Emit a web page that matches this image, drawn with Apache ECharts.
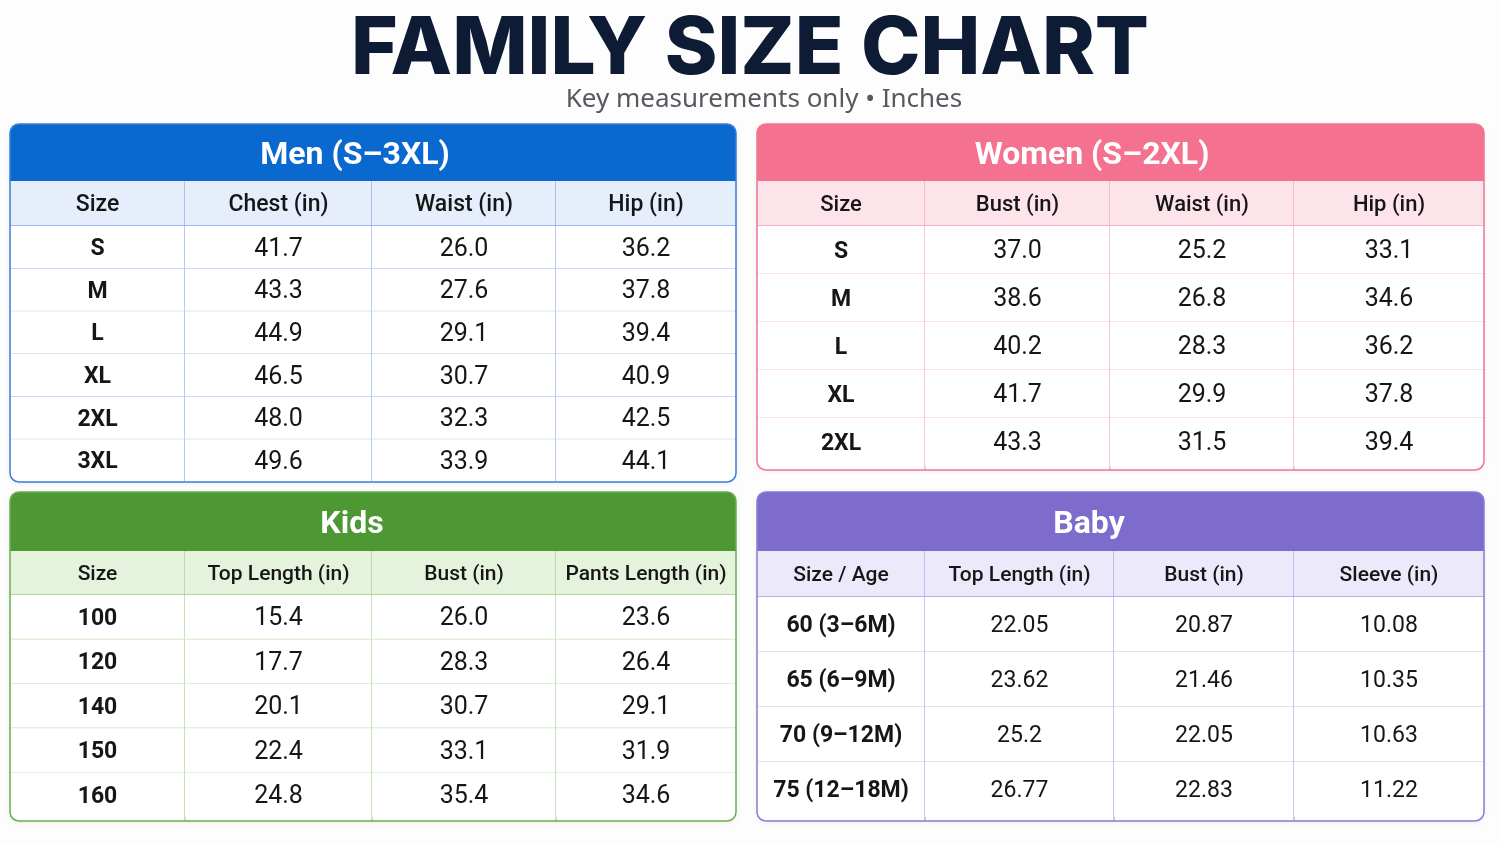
<!DOCTYPE html>
<html>
<head>
<meta charset="utf-8">
<script src="https://cdn.jsdelivr.net/npm/echarts@6/dist/echarts.min.js"></script>
<style>
  html, body { margin: 0; padding: 0; background: #fdfdfd; }
  #chart { width: 1500px; height: 844px; }
</style>
</head>
<body>
<div id="chart"></div>
<script>
// ---- data ----
const menColumns = ['Size', 'Chest (in)', 'Waist (in)', 'Hip (in)'];
const menSizes = ['S', 'M', 'L', 'XL', '2XL', '3XL'];
const menChest = [41.7, 43.3, 44.9, 46.5, 48.0, 49.6];
const menWaist = [26.0, 27.6, 29.1, 30.7, 32.3, 33.9];
const menHip = [36.2, 37.8, 39.4, 40.9, 42.5, 44.1];

const womenColumns = ['Size', 'Bust (in)', 'Waist (in)', 'Hip (in)'];
const womenSizes = ['S', 'M', 'L', 'XL', '2XL'];
const womenBust = [37.0, 38.6, 40.2, 41.7, 43.3];
const womenWaist = [25.2, 26.8, 28.3, 29.9, 31.5];
const womenHip = [33.1, 34.6, 36.2, 37.8, 39.4];

const kidsColumns = ['Size', 'Top Length (in)', 'Bust (in)', 'Pants Length (in)'];
const kidsSizes = ['100', '120', '140', '150', '160'];
const kidsTop = [15.4, 17.7, 20.1, 22.4, 24.8];
const kidsBust = [26.0, 28.3, 30.7, 33.1, 35.4];
const kidsPants = [23.6, 26.4, 29.1, 31.9, 34.6];

const babyColumns = ['Size / Age', 'Top Length (in)', 'Bust (in)', 'Sleeve (in)'];
const babySizes = ['60 (3–6M)', '65 (6–9M)', '70 (9–12M)', '75 (12–18M)'];
const babyTop = [22.05, 23.62, 25.2, 26.77];
const babyBust = [20.87, 21.46, 22.05, 22.83];
const babySleeve = [10.08, 10.35, 10.63, 11.22];

// ---- layout / style ----
const FONT = 'Roboto, "Noto Sans", sans-serif';
const fixed1 = v => v.toFixed(1);
const plain = v => String(v);

// extra: how far the panel frame closes below the last row
const panels = [
  { title: 'Men (S–3XL)', columns: menColumns, sizes: menSizes, values: [menChest, menWaist, menHip], fmt: fixed1,
    left: 10, width: 726, top: 124, headTop: 181, bodyTop: 226, bottom: 482, extra: 0, colW: [175, 187, 184, 180],
    titleX: 355, valSize: 25, headSize: 23,
    band: '#0a69cf', head: '#e6eefb', colLine: '#7fa8e4', rowLine: '#b3cbf0', edge: '#3a7fd8' },
  { title: 'Women (S–2XL)', columns: womenColumns, sizes: womenSizes, values: [womenBust, womenWaist, womenHip], fmt: fixed1,
    left: 757, width: 727, top: 124, headTop: 181, bodyTop: 226, bottom: 466, extra: 4, colW: [168, 185, 184, 190],
    titleX: 1092, valSize: 25, headSize: 22,
    band: '#f4728f', head: '#fde4ea', colLine: '#f4a3b5', rowLine: '#f8c2ce', edge: '#f07593' },
  { title: 'Kids', columns: kidsColumns, sizes: kidsSizes, values: [kidsTop, kidsBust, kidsPants], fmt: fixed1,
    left: 10, width: 726, top: 492, headTop: 551, bodyTop: 595, bottom: 817, extra: 4, colW: [175, 187, 184, 180],
    titleX: 352, valSize: 25, headSize: 21,
    band: '#4e9833', head: '#e5f3dd', colLine: '#9fcf8c', rowLine: '#c3e2b5', edge: '#6cad55' },
  { title: 'Baby', columns: babyColumns, sizes: babySizes, values: [babyTop, babyBust, babySleeve], fmt: plain,
    left: 757, width: 727, top: 492, headTop: 551, bodyTop: 597, bottom: 817, extra: 4, colW: [168, 189, 180, 190],
    titleX: 1089, valSize: 23, headSize: 21,
    band: '#7e6ccc', head: '#ece9fa', colLine: '#a99de3', rowLine: '#c9c1ef', edge: '#8b7bd3' }
];

const grid = [], xAxis = [], yAxis = [], series = [], graphic = [];

graphic.push({
  type: 'text', x: 750, y: 50, z: 50,
  style: { text: 'FAMILY SIZE CHART', align: 'center', verticalAlign: 'middle',
    font: '800 80px Inter, "Noto Sans", sans-serif', fill: '#0d1b34' }
});
graphic.push({
  type: 'text', x: 764, y: 100, z: 50,
  style: { text: 'Key measurements only • Inches', align: 'center', verticalAlign: 'middle',
    font: '26px "Noto Sans", sans-serif', fill: '#555a60' }
});

function cellRenderer(p, cells, isHead, nRows) {
  const edges = [0];
  p.colW.forEach(w => edges.push(edges[edges.length - 1] + w));
  return function (params, api) {
    const cell = cells[params.dataIndex];
    const col = cell.col, row = cell.row;
    const x0 = api.coord([edges[col], row])[0];
    const x1 = api.coord([edges[col + 1], row])[0];
    const yc = api.coord([0, row])[1];
    const h = api.size([0, 1])[1];
    const y0 = yc - h / 2;
    const lastRow = !isHead && row === nRows - 1;
    const children = [{
      type: 'rect', shape: { x: x0, y: y0, width: x1 - x0, height: h },
      style: { fill: isHead ? p.head : '#ffffff' }
    }];
    if (col < p.colW.length - 1) {
      children.push({ type: 'line', shape: { x1: x1, y1: y0, x2: x1, y2: y0 + h + (lastRow ? p.extra : 0) },
        style: { stroke: p.colLine, lineWidth: 1.2 } });
    }
    if (isHead || !lastRow) {
      children.push({ type: 'line', shape: { x1: x0, y1: y0 + h, x2: x1, y2: y0 + h },
        style: { stroke: isHead ? p.colLine : p.rowLine, lineWidth: isHead ? 1.5 : 1.2 } });
    }
    let font;
    if (isHead) font = '500 ' + p.headSize + 'px ' + FONT;
    else if (col === 0) font = 'bold 23px ' + FONT;
    else font = p.valSize + 'px ' + FONT;
    children.push({
      type: 'text',
      style: { text: cell.text, x: (x0 + x1) / 2, y: yc + 2, align: 'center', verticalAlign: 'middle',
        font: font, fill: '#161616' }
    });
    return { type: 'group', children: children };
  };
}

panels.forEach((p, i) => {
  const total = p.colW.reduce((a, b) => a + b, 0);
  const hi = i * 2, bi = i * 2 + 1;
  const frameBottom = p.bottom + p.extra;

  graphic.push({
    type: 'rect', z: 0,
    shape: { x: p.left, y: p.top, width: p.width, height: frameBottom - p.top, r: 9 },
    style: { fill: '#ffffff', shadowBlur: 6, shadowColor: 'rgba(0,0,0,0.08)', shadowOffsetY: 1 }
  });
  graphic.push({
    type: 'rect', z: 5,
    shape: { x: p.left, y: p.top, width: p.width, height: p.headTop - p.top, r: [9, 9, 0, 0] },
    style: { fill: p.band }
  });
  graphic.push({
    type: 'text', x: p.titleX, y: (p.top + p.headTop) / 2 + 3, z: 6,
    style: { text: p.title, align: 'center', verticalAlign: 'middle',
      font: 'bold 32px ' + FONT, fill: '#ffffff' }
  });
  graphic.push({
    type: 'rect', z: 100,
    shape: { x: p.left, y: p.top, width: p.width, height: frameBottom - p.top, r: 9 },
    style: { fill: 'none', stroke: p.edge, lineWidth: 1.5 }
  });

  grid.push({ left: p.left, top: p.headTop, width: p.width, height: p.bodyTop - p.headTop });
  grid.push({ left: p.left, top: p.bodyTop, width: p.width, height: p.bottom - p.bodyTop });
  [hi, bi].forEach(g => {
    xAxis.push({ type: 'value', gridIndex: g, min: 0, max: total, show: false });
  });
  yAxis.push({ type: 'category', gridIndex: hi, data: ['head'], show: false });
  yAxis.push({ type: 'category', gridIndex: bi, data: p.sizes, inverse: true, show: false });

  const headCells = p.columns.map((c, j) => ({ col: j, row: 0, text: c }));
  const bodyCells = [];
  p.sizes.forEach((s, r) => {
    bodyCells.push({ col: 0, row: r, text: s });
    p.values.forEach((vals, j) => bodyCells.push({ col: j + 1, row: r, text: p.fmt(vals[r]) }));
  });

  series.push({
    type: 'custom', xAxisIndex: hi, yAxisIndex: hi, silent: true, z: 10,
    renderItem: cellRenderer(p, headCells, true, 1),
    data: headCells.map(c => [c.col, c.row])
  });
  series.push({
    type: 'custom', xAxisIndex: bi, yAxisIndex: bi, silent: true, z: 10,
    renderItem: cellRenderer(p, bodyCells, false, p.sizes.length),
    data: bodyCells.map(c => [c.col, c.row])
  });
});

const chart = echarts.init(document.getElementById('chart'));
chart.setOption({
  backgroundColor: '#fdfdfd',
  animation: false,
  grid: grid,
  xAxis: xAxis,
  yAxis: yAxis,
  series: series,
  graphic: graphic
});
</script>
</body>
</html>
